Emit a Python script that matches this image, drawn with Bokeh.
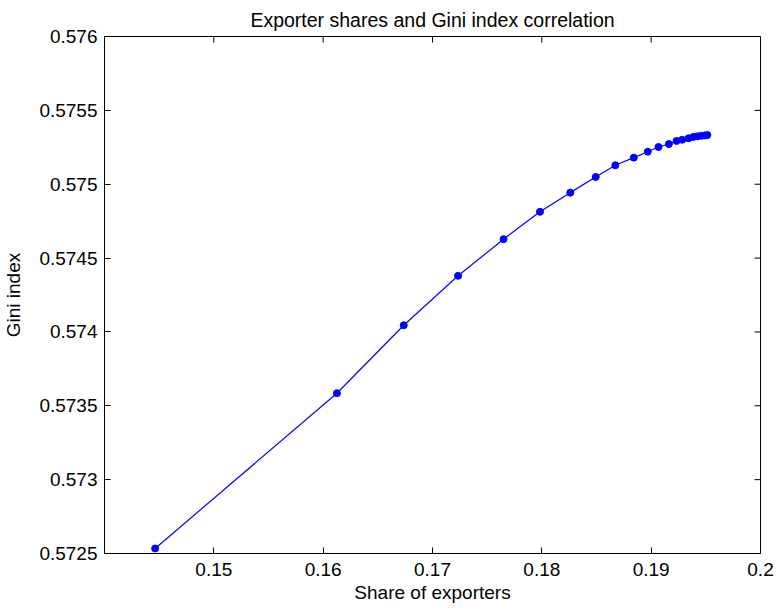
import math
from bokeh.plotting import figure
from bokeh.models import FixedTicker, Range1d
from bokeh.embed import file_html
from bokeh.resources import INLINE

# Data
share_exporters = [0.14463, 0.16126, 0.16737, 0.17234, 0.17650, 0.17983, 0.18260,
                   0.18493, 0.18672, 0.18841, 0.18969, 0.19067, 0.19162, 0.19232,
                   0.19284, 0.19342, 0.19385, 0.19425, 0.19459, 0.19489, 0.19514]
gini_index = [0.572534, 0.573585, 0.574045, 0.574380, 0.574628, 0.574813, 0.574943,
              0.575049, 0.575128, 0.575180, 0.575220, 0.575252, 0.575272, 0.575293,
              0.575301, 0.575311, 0.575320, 0.575324, 0.575328, 0.575330, 0.575333]

x_ticks = [0.15, 0.16, 0.17, 0.18, 0.19, 0.2]
x_labels = ["0.15", "0.16", "0.17", "0.18", "0.19", "0.2"]
y_ticks = [0.5725, 0.573, 0.5735, 0.574, 0.5745, 0.575, 0.5755, 0.576]
y_labels = ["0.5725", "0.573", "0.5735", "0.574", "0.5745", "0.575", "0.5755", "0.576"]
x_limits = [0.14, 0.2]
y_limits = [0.5725, 0.576]

FONT = "Liberation Sans"
FS = "19px"

p = figure(width=776, height=610, output_backend="svg", toolbar_location=None,
           x_range=Range1d(*x_limits), y_range=Range1d(*y_limits),
           min_border_left=104, min_border_right=16, min_border_top=35,
           min_border_bottom=57, x_axis_label="Share of exporters",
           y_axis_label="Gini index")
p.background_fill_color = "white"
p.border_fill_color = "white"
p.outline_line_color = "black"
p.outline_line_width = 1
p.xgrid.visible = False
p.ygrid.visible = False

p.title.text = "Exporter shares and Gini index correlation"
p.title.align = "center"
p.title.text_font = FONT
p.title.text_font_size = "19.5px"
p.title.text_font_style = "normal"
p.title.text_color = "black"
p.title.standoff = 12

for ax, ticks, labels in ((p.xaxis[0], x_ticks, x_labels), (p.yaxis[0], y_ticks, y_labels)):
    ax.ticker = FixedTicker(ticks=ticks)
    ax.major_label_overrides = {t: l for t, l in zip(ticks, labels)}
    ax.major_tick_in = 6
    ax.major_tick_out = 0
    ax.minor_tick_in = 0
    ax.minor_tick_out = 0
    ax.axis_line_color = "black"
    ax.axis_line_width = 1
    ax.major_tick_line_color = "black"
    ax.major_label_text_font = FONT
    ax.major_label_text_font_size = FS
    ax.major_label_text_color = "black"
    ax.axis_label_text_font = FONT
    ax.axis_label_text_font_size = FS
    ax.axis_label_text_font_style = "normal"
    ax.axis_label_text_color = "black"

p.xaxis[0].major_label_standoff = 9
p.xaxis[0].axis_label_standoff = 3
p.yaxis[0].major_label_standoff = 7
p.yaxis[0].axis_label_standoff = 12

# mirrored box ticks on the top and right edges (inward, 6 px)
p.ray(x=x_ticks, y=[y_limits[1]] * len(x_ticks), length=6, length_units="screen",
      angle=-math.pi / 2, line_color="black", line_width=1)
p.ray(x=[x_limits[1]] * len(y_ticks), y=y_ticks, length=6, length_units="screen",
      angle=math.pi, line_color="black", line_width=1)

p.line(share_exporters, gini_index, line_color="#0000ff", line_width=1.2)
p.scatter(share_exporters, gini_index, size=7, fill_color="#0000ff", line_color="#0000ff")

open("out.html", "w").write(file_html(p, INLINE))
